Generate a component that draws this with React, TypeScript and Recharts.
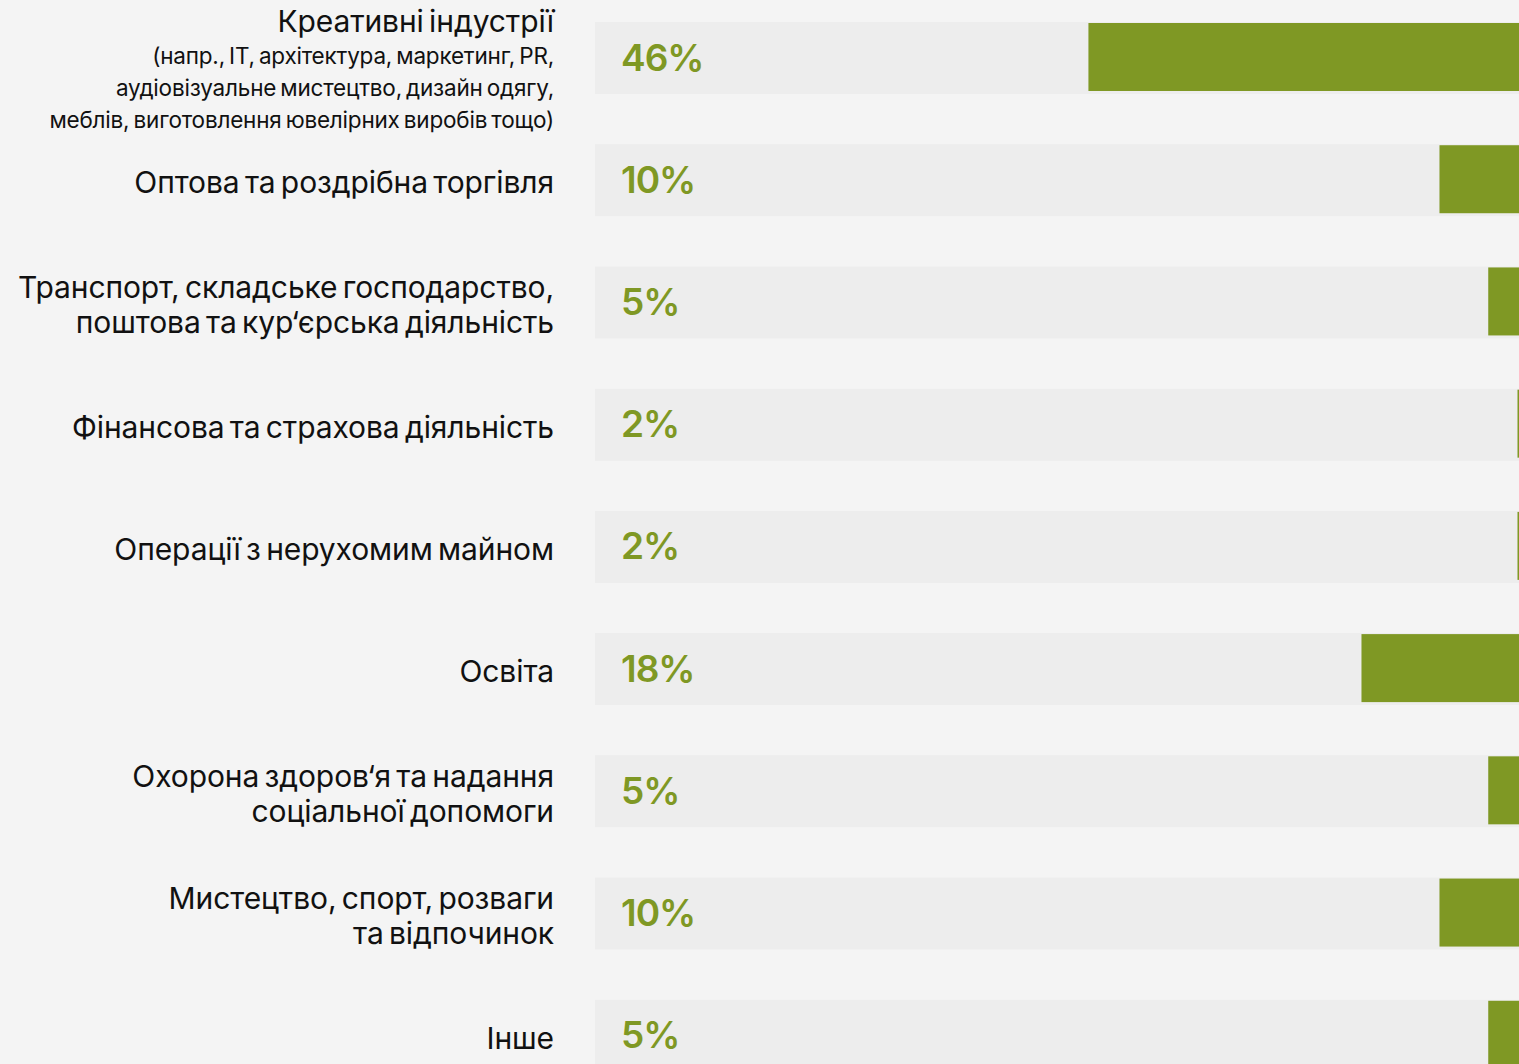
import React from "react";

import { Bar, BarChart, LabelList, XAxis, YAxis } from "recharts";


const categories = [
  "Креативні індустрії",
  "Оптова та роздрібна торгівля",
  "Транспорт, складське господарство, поштова та кур‘єрська діяльність",
  "Фінансова та страхова діяльність",
  "Операції з нерухомим майном",
  "Освіта",
  "Охорона здоров‘я та надання соціальної допомоги",
  "Мистецтво, спорт, розваги та відпочинок",
  "Інше"
];

const values = [46, 10, 5, 2, 2, 18, 5, 10, 5];

const labelLines = [
  ["Креативні індустрії"],
  ["Оптова та роздрібна торгівля"],
  ["Транспорт, складське господарство,", "поштова та кур‘єрська діяльність"],
  ["Фінансова та страхова діяльність"],
  ["Операції з нерухомим майном"],
  ["Освіта"],
  ["Охорона здоров‘я та надання", "соціальної допомоги"],
  ["Мистецтво, спорт, розваги", "та відпочинок"],
  ["Інше"]
];

const labelNotes = [
  [
    "(напр., IT, архітектура, маркетинг, PR,",
    "аудіовізуальне мистецтво, дизайн одягу,",
    "меблів, виготовлення ювелірних виробів тощо)"
  ],
  [], [], [], [], [], [], [], []
];


const PAGE_BG = "#f4f4f4";
const TRACK = "#ededed";
const GREEN = "#7f9824";
const FONT = "Inter, 'Noto Sans', sans-serif";
const PLOT_LEFT = 595;


const CategoryTick = (props: any) => {
  const { y, payload } = props;
  const i = categories.indexOf(payload.value);
  const main = labelLines[i] || [payload.value];
  const notes = labelNotes[i] || [];

  const rows: Array<{ text: string; small: boolean; off: number }> = [];
  let off = 0;
  main.forEach((t, k) => {
    if (k > 0) off += 35;
    rows.push({ text: t, small: false, off });
  });
  notes.forEach((t, k) => {
    off += k === 0 ? 34 : 32;
    rows.push({ text: t, small: true, off });
  });
  const shift = notes.length ? 12 : 2;
  const start = y - off / 2 + shift;

  return (
    <g>
      {rows.map((r, k) => (
        <text
          key={k}
          x={PLOT_LEFT - 41}
          y={start + r.off}
          textAnchor="end"
          dominantBaseline="central"
          fontFamily={FONT}
          fontSize={r.small ? 22.5 : 30}
          letterSpacing={r.small ? -0.2 : -0.1}
          wordSpacing={r.small ? -2 : -3}
          fill="#111"
        >
          {r.text}
        </text>
      ))}
    </g>
  );
};


const GreenBar = (props: any) => {
  const { x, y, width, height } = props;
  const left = Math.min(x, x + width);
  return <rect x={left} y={y + 1} width={Math.abs(width)} height={height - 4} fill={GREEN} />;
};


const App: React.FC = () => {
  const data = categories.map((name, i) => ({ name, value: values[i] }));

  return (
    <div
      style={{
        position: "absolute",
        left: 0,
        top: 0,
        width: 1519,
        height: 1064,
        overflow: "hidden",
        background: PAGE_BG
      }}
    >
      <div style={{ position: "absolute", left: 0, top: -3 }}>
        <BarChart
          width={1537}
          height={1100}
          data={data}
          layout="vertical"
          margin={{ top: 0, right: 0, bottom: 0, left: 0 }}
        >
          <XAxis type="number" hide reversed domain={[0, 96.6]} />
          <YAxis
            type="category"
            dataKey="name"
            width={PLOT_LEFT}
            axisLine={false}
            tickLine={false}
            interval={0}
            tick={<CategoryTick />}
          />
          <Bar
            dataKey="value"
            barSize={72}
            background={{ fill: TRACK }}
            shape={<GreenBar />}
            isAnimationActive={false}
          >
            <LabelList
              dataKey="value"
              content={(p: any) => (
                <text
                  x={PLOT_LEFT + 26}
                  y={p.y + p.height / 2 - 1}
                  dominantBaseline="central"
                  fontFamily={FONT}
                  fontSize={37}
                  fontWeight={600}
                  letterSpacing={-1}
                  fill={GREEN}
                >
                  {`${p.value}%`}
                </text>
              )}
            />
          </Bar>
        </BarChart>
      </div>
    </div>
  );
};

export default App;
